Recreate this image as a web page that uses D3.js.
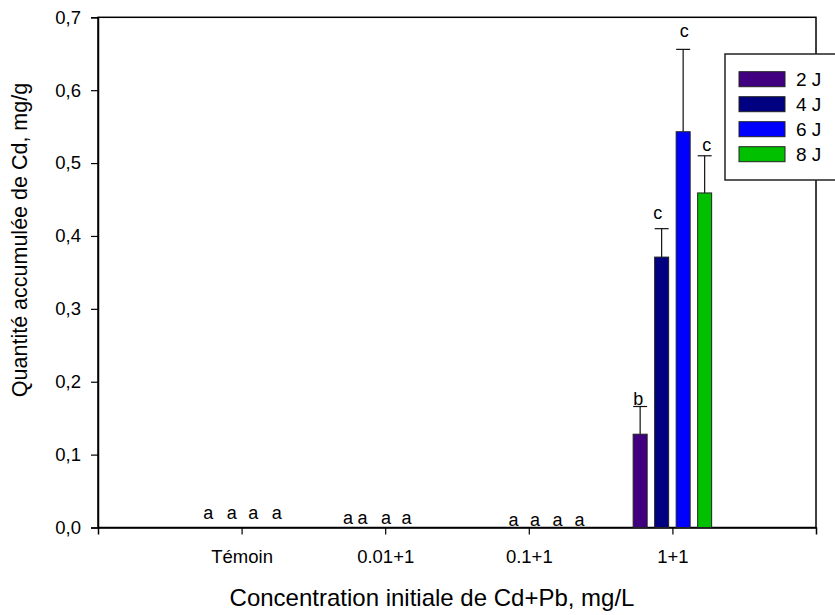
<!DOCTYPE html>
<html>
<head>
<meta charset="utf-8">
<script src="https://cdn.jsdelivr.net/npm/d3@7"></script>
<style>
  html, body { margin: 0; padding: 0; background: #fff; }
  svg { display: block; font-family: "Liberation Sans", Arial, sans-serif; }
</style>
</head>
<body>
<svg id="chart" width="835" height="615"></svg>
<script>
// Cd accumulated per initial Cd+Pb concentration, by exposure duration
const categories = ["Témoin", "0.01+1", "0.1+1", "1+1"];
const seriesNames = ["2 J", "4 J", "6 J", "8 J"];
const mean2J = [0, 0, 0, 0.128];
const mean4J = [0, 0, 0, 0.371];
const mean6J = [0, 0, 0, 0.543];
const mean8J = [0, 0, 0, 0.459];
const err2J = [0, 0, 0, 0.038];
const err4J = [0, 0, 0, 0.039];
const err6J = [0, 0, 0, 0.113];
const err8J = [0, 0, 0, 0.051];
const letters2J = ["a", "a", "a", "b"];
const letters4J = ["a", "a", "a", "c"];
const letters6J = ["a", "a", "a", "c"];
const letters8J = ["a", "a", "a", "c"];
const yTicks = [0, 0.1, 0.2, 0.3, 0.4, 0.5, 0.6, 0.7];

const seriesColors = ["#400080", "#000080", "#0000ff", "#00c000"];

// small hand placements of the significance letters [dx, dy] per category/series
const letterNudge = [
  [[-1, -9], [1, -9], [1, -9], [3, -9]],
  [[-5, -4], [-12, -4], [-10, -4], [-11, -4]],
  [[17, -2], [17, -2], [18, -2], [18.5, -2]],
  [[-2, -2], [-4, -10], [1, -12], [2, -5]]
];

const means = [mean2J, mean4J, mean6J, mean8J];
const errs = [err2J, err4J, err6J, err8J];
const letters = [letters2J, letters4J, letters6J, letters8J];

const rows = [];
categories.forEach((c, ci) => {
  seriesNames.forEach((s, si) => {
    rows.push({ cat: c, ci, series: s, si, mean: means[si][ci], err: errs[si][ci], letter: letters[si][ci] });
  });
});

const svg = d3.select("#chart");
const plotL = 98, plotR = 816, plotT = 17.3, plotB = 527.5;

const x = d3.scalePoint().domain(categories).range([plotL, plotR]).padding(1);
const xOff = d3.scalePoint().domain(seriesNames).range([-32.25, 32.25]);
const barW = 14;
const y = d3.scaleLinear().domain([0, 0.7]).range([plotB, plotT]);
const color = d3.scaleOrdinal().domain(seriesNames).range(seriesColors);

const fr = d3.formatLocale({ decimal: ",", thousands: " ", grouping: [3], currency: ["", ""] });
const fmt = fr.format(".1f");

// frame
svg.append("rect")
  .attr("x", plotL).attr("y", plotT)
  .attr("width", plotR - plotL).attr("height", plotB - plotT)
  .attr("fill", "none").attr("stroke", "#000").attr("stroke-width", 1.5);

// axes
const yAxis = svg.append("g")
  .attr("transform", `translate(${plotL},0)`)
  .call(d3.axisLeft(y).tickValues(yTicks).tickFormat(fmt).tickSize(7).tickPadding(10));
const xAxis = svg.append("g")
  .attr("transform", `translate(0,${plotB})`)
  .call(d3.axisBottom(x).tickSize(7).tickPadding(15));
[yAxis, xAxis].forEach(g => {
  g.select(".domain").attr("stroke", "#000").attr("stroke-width", 1.5);
  g.selectAll(".tick line").attr("stroke", "#000").attr("stroke-width", 1.2);
  g.selectAll("text").attr("fill", "#000").style("font-size", "18.5px")
    .style("font-family", "'Liberation Sans', Arial, sans-serif");
});

// error bars (upper only)
const eb = svg.append("g").selectAll("g").data(rows.filter(d => d.err > 0)).join("g");
eb.append("line")
  .attr("x1", d => x(d.cat) + xOff(d.series)).attr("x2", d => x(d.cat) + xOff(d.series))
  .attr("y1", d => y(d.mean)).attr("y2", d => y(d.mean + d.err))
  .attr("stroke", "#111").attr("stroke-width", 1.2);
eb.append("line")
  .attr("x1", d => x(d.cat) + xOff(d.series) - barW / 2).attr("x2", d => x(d.cat) + xOff(d.series) + barW / 2)
  .attr("y1", d => y(d.mean + d.err)).attr("y2", d => y(d.mean + d.err))
  .attr("stroke", "#111").attr("stroke-width", 1.2);

// bars
svg.append("g").selectAll("rect").data(rows.filter(d => d.mean > 0)).join("rect")
  .attr("x", d => x(d.cat) + xOff(d.series) - barW / 2)
  .attr("y", d => y(d.mean))
  .attr("width", barW)
  .attr("height", d => y(0) - y(d.mean))
  .attr("fill", d => color(d.series))
  .attr("stroke", "#222").attr("stroke-width", 1);

// significance letters
svg.append("g").selectAll("text").data(rows).join("text")
  .attr("x", d => x(d.cat) + xOff(d.series) + letterNudge[d.ci][d.si][0])
  .attr("y", d => y(d.mean + d.err) + letterNudge[d.ci][d.si][1])
  .attr("text-anchor", "middle")
  .style("font-size", "18px")
  .text(d => d.letter);

// axis titles
svg.append("text")
  .attr("x", 432).attr("y", 606)
  .attr("text-anchor", "middle").style("font-size", "24px")
  .text("Concentration initiale de Cd+Pb, mg/L");
svg.append("text")
  .attr("transform", "translate(27,240) rotate(-90)")
  .attr("text-anchor", "middle").style("font-size", "21.5px")
  .text("Quantité accumulée de Cd, mg/g");

// legend
const lg = svg.append("g").attr("transform", "translate(725,54)");
lg.append("rect").attr("x", 0).attr("y", 0).attr("width", 130).attr("height", 126)
  .attr("fill", "#fff").attr("stroke", "#222").attr("stroke-width", 1.5);
const li = lg.selectAll("g.item").data(seriesNames).join("g").attr("class", "item")
  .attr("transform", (d, i) => `translate(14,${17.7 + i * 25})`);
li.append("rect").attr("width", 46).attr("height", 15)
  .attr("fill", d => color(d)).attr("stroke", "#222").attr("stroke-width", 1);
li.append("text").attr("x", 57).attr("y", 14.5).style("font-size", "19px").text(d => d);
</script>
</body>
</html>
